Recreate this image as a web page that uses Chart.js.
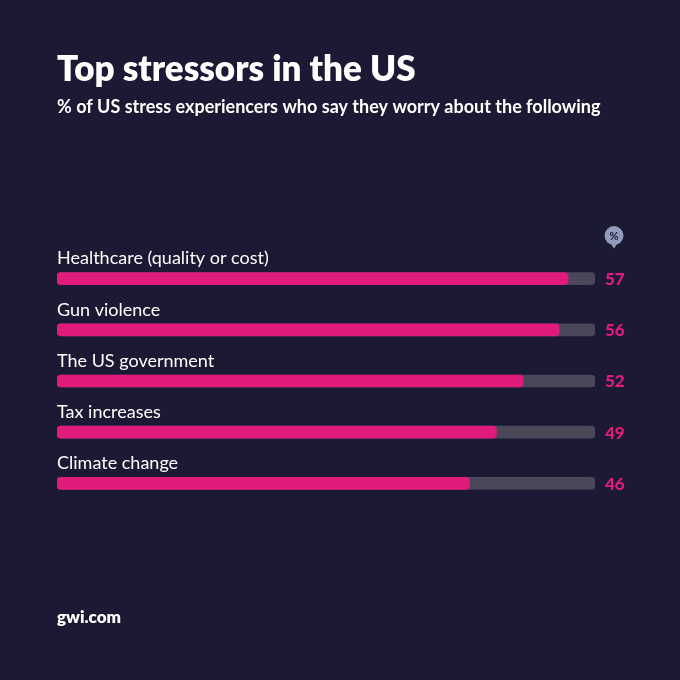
<!DOCTYPE html>
<html>
<head>
<meta charset="utf-8">
<script src="https://cdn.jsdelivr.net/npm/chart.js@4.4.1/dist/chart.umd.min.js"></script>
<style>
  html, body { margin: 0; padding: 0; background: #1c1934; }
  #wrap { position: relative; width: 680px; height: 680px; }
  canvas { position: absolute; left: 0; top: 0; }
</style>
</head>
<body>
<div id="wrap"><canvas id="myChart" width="680" height="680"></canvas></div>
<script>
var categories = [
    "Healthcare (quality or cost)",
    "Gun violence",
    "The US government",
    "Tax increases",
    "Climate change"
];
var values = [57, 56, 52, 49, 46];
var trackMax = 60;
var trackValues = categories.map(function () { return trackMax; });

var title = "Top stressors in the US";
var subtitle = "% of US stress experiencers who say they worry about the following";
var footer = "gwi.com";

var pink = "#e01b7b";
var track = "#4a4759";
var fontName = "Lato, 'Noto Sans', sans-serif";

// labels above bars, values on the right, % marker, title + footer
var decor = {
    id: 'decor',
    afterDatasetsDraw: function (chart) {
        var c = chart.ctx;
        var area = chart.chartArea;
        var meta = chart.getDatasetMeta(1);
        c.save();
        c.textBaseline = 'middle';
        meta.data.forEach(function (bar, i) {
            c.fillStyle = '#ffffff';
            c.font = '400 18px ' + fontName;
            c.textAlign = 'left';
            c.fillText(categories[i], area.left, bar.y - 20);
            c.fillStyle = pink;
            c.font = '900 17px ' + fontName;
            c.fillText(values[i], area.right + 10, bar.y + 1);
        });

        // % marker
        var mx = area.right + 19, my = meta.data[0].y - 43;
        c.fillStyle = '#929bbb';
        c.beginPath();
        c.arc(mx, my, 9.5, 0, Math.PI * 2);
        c.fill();
        c.beginPath();
        c.moveTo(mx - 4, my + 7);
        c.lineTo(mx + 4, my + 7);
        c.lineTo(mx, my + 13);
        c.closePath();
        c.fill();
        c.fillStyle = '#1c1934';
        c.font = '700 11px ' + fontName;
        c.textAlign = 'center';
        c.fillText('%', mx, my + 1);

        // titles
        c.textAlign = 'left';
        c.textBaseline = 'alphabetic';
        c.fillStyle = '#ffffff';
        c.font = '800 35px ' + fontName;
        c.fillText(title, 57, 81);
        c.font = '700 18px ' + fontName;
        c.fillText(subtitle, 57, 113);
        c.font = '800 17px ' + fontName;
        c.fillText(footer, 57, 623);
        c.restore();
    }
};

var ctx = document.getElementById("myChart");
var myChart = new Chart(ctx, {
    type: 'bar',
    data: {
        labels: categories,
        datasets: [{
            data: trackValues,
            backgroundColor: track,
            borderRadius: 4,
            borderSkipped: false,
            barThickness: 12,
            order: 2
        }, {
            data: values,
            backgroundColor: pink,
            borderRadius: 4,
            borderSkipped: false,
            barThickness: 12,
            order: 1
        }]
    },
    plugins: [decor],
    options: {
        responsive: false,
        animation: false,
        indexAxis: 'y',
        grouped: false,
        layout: { padding: { left: 57, right: 85, top: 253, bottom: 171 } },
        scales: {
            x: { min: 0, max: trackMax, display: false },
            y: { display: false }
        },
        plugins: {
            legend: { display: false },
            tooltip: { enabled: false }
        }
    }
});
</script>
</body>
</html>
